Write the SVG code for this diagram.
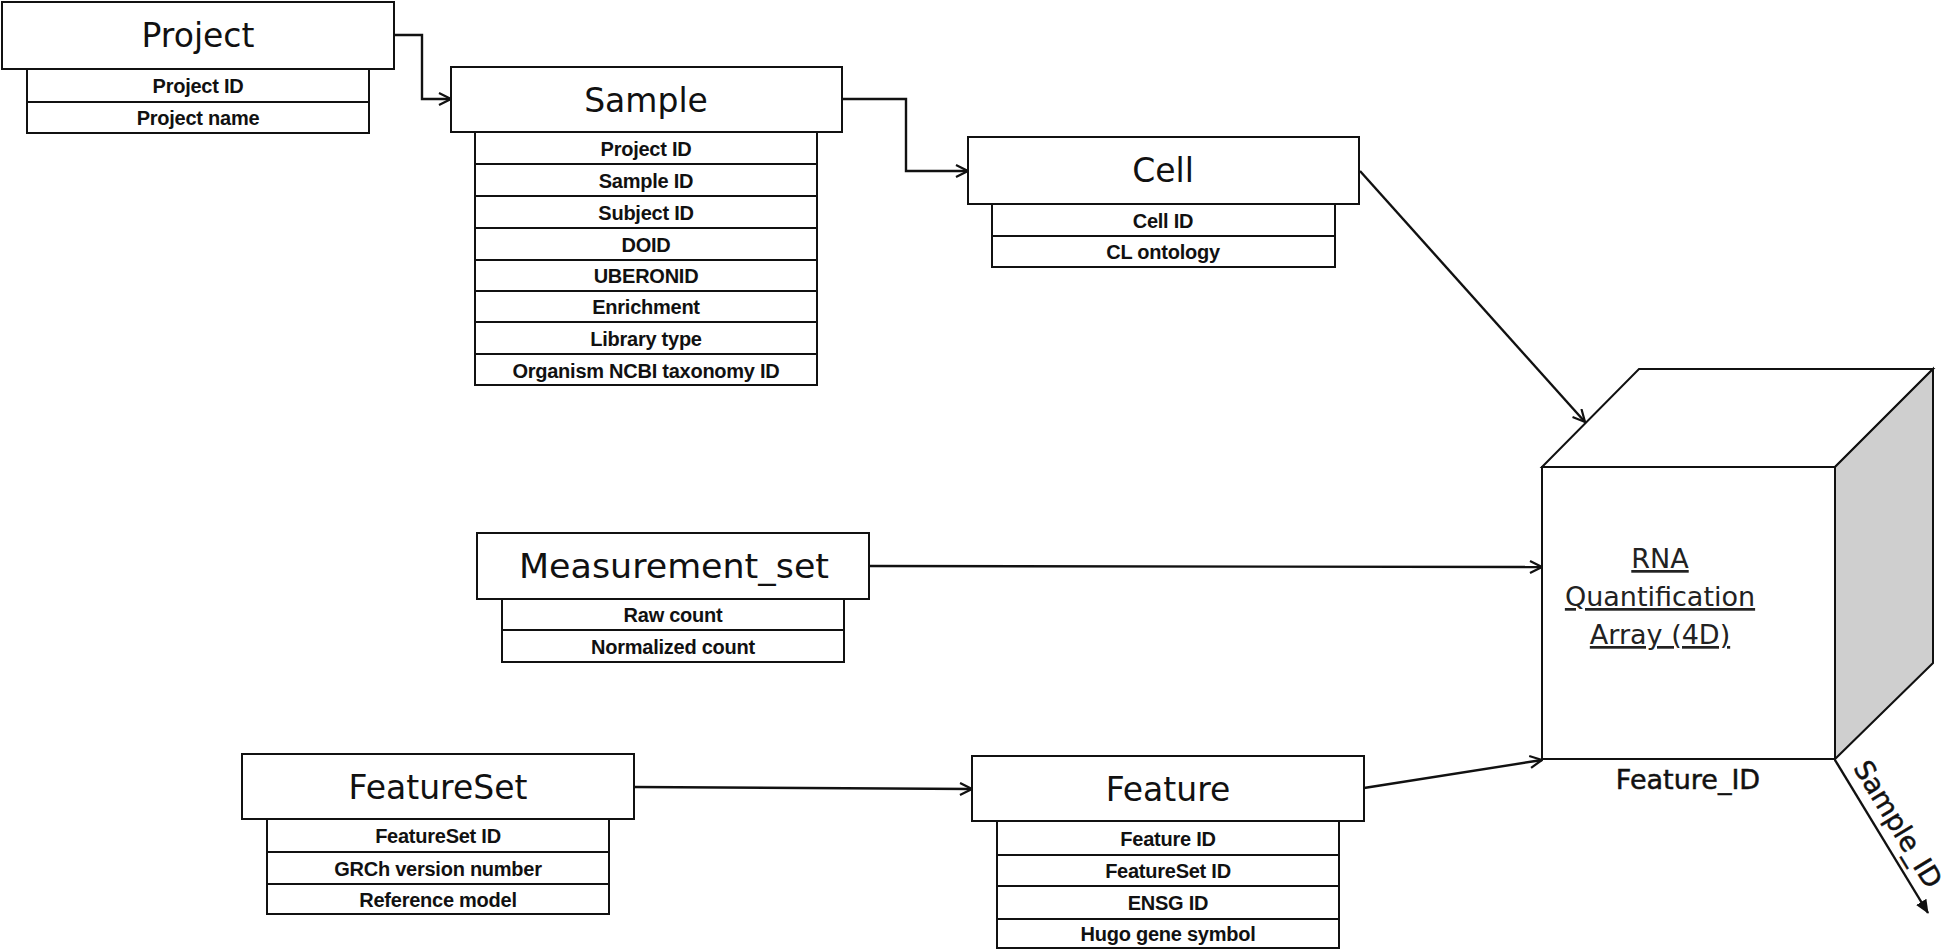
<svg xmlns="http://www.w3.org/2000/svg" width="1946" height="952" viewBox="0 0 1946 952">
<style>
.box{fill:#fff;stroke:#111;stroke-width:2}
.hdr{font-family:"DejaVu Sans",sans-serif;font-size:33px;fill:#111;text-anchor:middle}
.att{font-family:"Liberation Sans",Arial,sans-serif;font-weight:bold;font-size:20px;letter-spacing:-0.25px;fill:#111;text-anchor:middle}
.con{fill:none;stroke:#111;stroke-width:2.4}
.cube{font-family:"DejaVu Sans",sans-serif;font-size:27px;fill:#222;text-anchor:middle}
.axis{font-family:"DejaVu Sans",sans-serif;font-size:27px;fill:#111;stroke:#111;stroke-width:0.5;text-anchor:middle}
</style>
<defs>
<marker id="open" viewBox="0 0 14 14" refX="13" refY="7" markerWidth="14" markerHeight="14" orient="auto" markerUnits="userSpaceOnUse">
<path d="M1,1 L13,7 L1,13" fill="none" stroke="#111" stroke-width="2.2"/>
</marker>
<marker id="filled" viewBox="0 0 14 12" refX="13" refY="6" markerWidth="14" markerHeight="12" orient="auto" markerUnits="userSpaceOnUse">
<path d="M0,0 L14,6 L0,12 Z" fill="#111"/>
</marker>
</defs>
<rect width="1946" height="952" fill="#fff"/>

<g id="connectors">
<path class="con" d="M394,35 H422 V99 H451" marker-end="url(#open)"/>
<path class="con" d="M842,99 H906 V171 H968" marker-end="url(#open)"/>
<path class="con" d="M1360,171 L1585,422" marker-end="url(#open)"/>
<path class="con" d="M869,566 L1542,567" marker-end="url(#open)"/>
<path class="con" d="M634,787 L972,789" marker-end="url(#open)"/>
<path class="con" d="M1364,788 L1542,760" marker-end="url(#open)"/>
<path class="con" d="M1835,760 L1928,913" marker-end="url(#filled)"/>
</g>

<g id="project">
<rect class="box" x="2" y="2" width="392" height="67"/>
<text class="hdr" x="198" y="47">Project</text>
<rect class="box" x="27" y="69" width="342" height="33"/>
<text class="att" x="198" y="93">Project ID</text>
<rect class="box" x="27" y="102" width="342" height="31"/>
<text class="att" x="198" y="125">Project name</text>
</g>

<g id="sample">
<rect class="box" x="451" y="67" width="391" height="65"/>
<text class="hdr" x="646" y="112">Sample</text>
<rect class="box" x="475" y="132" width="342" height="32"/>
<text class="att" x="646" y="156">Project ID</text>
<rect class="box" x="475" y="164" width="342" height="32"/>
<text class="att" x="646" y="188">Sample ID</text>
<rect class="box" x="475" y="196" width="342" height="32"/>
<text class="att" x="646" y="220">Subject ID</text>
<rect class="box" x="475" y="228" width="342" height="32"/>
<text class="att" x="646" y="252">DOID</text>
<rect class="box" x="475" y="260" width="342" height="31"/>
<text class="att" x="646" y="283">UBERONID</text>
<rect class="box" x="475" y="291" width="342" height="31"/>
<text class="att" x="646" y="314">Enrichment</text>
<rect class="box" x="475" y="322" width="342" height="32"/>
<text class="att" x="646" y="346">Library type</text>
<rect class="box" x="475" y="354" width="342" height="31"/>
<text class="att" x="646" y="378">Organism NCBI taxonomy ID</text>
</g>

<g id="cell">
<rect class="box" x="968" y="137" width="391" height="67"/>
<text class="hdr" x="1163" y="182">Cell</text>
<rect class="box" x="992" y="204" width="343" height="32"/>
<text class="att" x="1163" y="228">Cell ID</text>
<rect class="box" x="992" y="236" width="343" height="31"/>
<text class="att" x="1163" y="259">CL ontology</text>
</g>

<g id="measurement_set">
<rect class="box" x="477" y="533" width="392" height="66"/>
<text class="hdr" x="674" y="578" textLength="310" lengthAdjust="spacingAndGlyphs">Measurement_set</text>
<rect class="box" x="502" y="599" width="342" height="31"/>
<text class="att" x="673" y="622">Raw count</text>
<rect class="box" x="502" y="630" width="342" height="32"/>
<text class="att" x="673" y="654">Normalized count</text>
</g>

<g id="featureset">
<rect class="box" x="242" y="754" width="392" height="65"/>
<text class="hdr" x="438" y="799">FeatureSet</text>
<rect class="box" x="267" y="819" width="342" height="33"/>
<text class="att" x="438" y="843">FeatureSet ID</text>
<rect class="box" x="267" y="852" width="342" height="32"/>
<text class="att" x="438" y="876">GRCh version number</text>
<rect class="box" x="267" y="884" width="342" height="30"/>
<text class="att" x="438" y="907">Reference model</text>
</g>

<g id="feature">
<rect class="box" x="972" y="756" width="392" height="65"/>
<text class="hdr" x="1168" y="801">Feature</text>
<rect class="box" x="997" y="821" width="342" height="34"/>
<text class="att" x="1168" y="846">Feature ID</text>
<rect class="box" x="997" y="855" width="342" height="31"/>
<text class="att" x="1168" y="878">FeatureSet ID</text>
<rect class="box" x="997" y="886" width="342" height="33"/>
<text class="att" x="1168" y="910">ENSG ID</text>
<rect class="box" x="997" y="919" width="342" height="29"/>
<text class="att" x="1168" y="941">Hugo gene symbol</text>
</g>

<g id="rna_array">
<polygon class="box" points="1542,467 1639,369 1933,369 1835,467"/>
<polygon points="1835,467 1933,369 1933,663 1835,759" fill="#cfcfcf" stroke="#111" stroke-width="2"/>
<rect class="box" x="1542" y="467" width="293" height="292"/>
<text class="cube" x="1660" y="568" text-decoration="underline">RNA</text>
<text class="cube" x="1660" y="606" text-decoration="underline">Quantification</text>
<text class="cube" x="1660" y="644" text-decoration="underline">Array (4D)</text>
<text class="axis" x="1688" y="789">Feature_ID</text>
<text class="axis" x="1890" y="829" font-size="26" transform="rotate(58.7 1890 829)">Sample_ID</text>
</g>
</svg>
